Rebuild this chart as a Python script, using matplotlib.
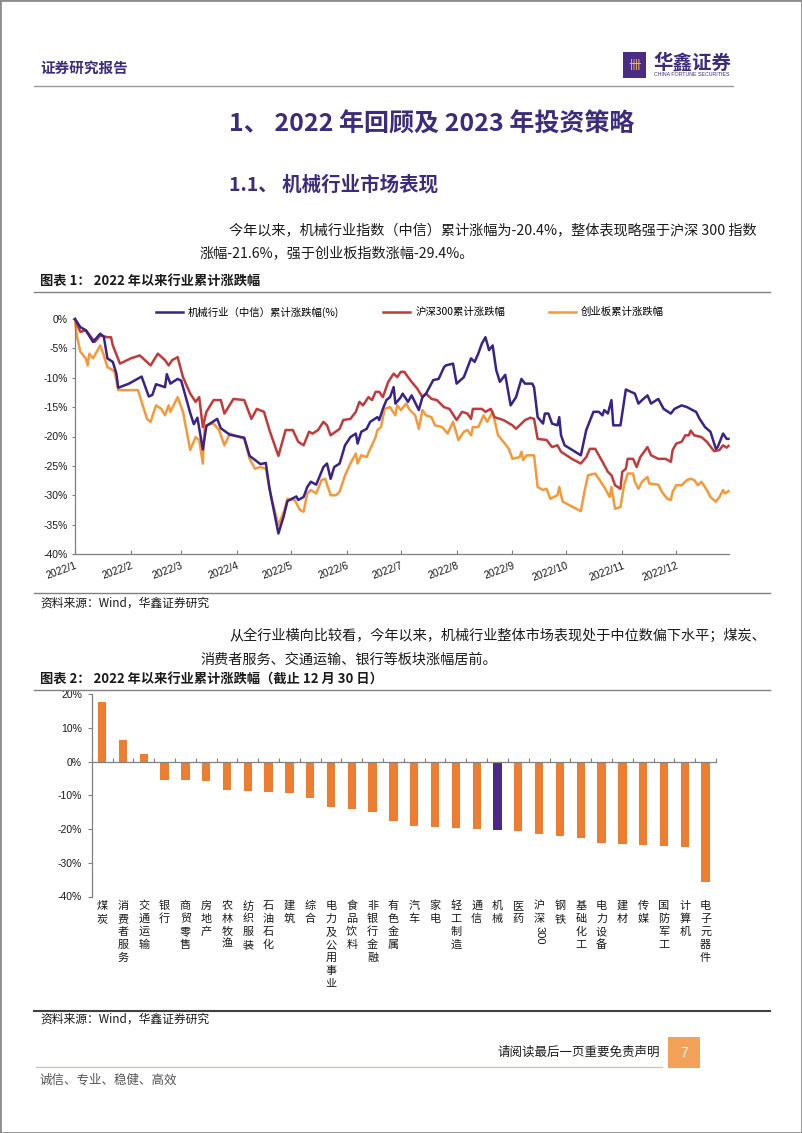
"""
Report page: 2022 cumulative returns, machinery sector vs indices and all industries.
Output: out.png
"""
import matplotlib
matplotlib.use("Agg")
import numpy as np
import pandas as pd
import matplotlib.pyplot as plt
import matplotlib.transforms as mtransforms
from matplotlib.lines import Line2D
from matplotlib.patches import Rectangle

plt.rcParams["font.family"] = ["Liberation Sans", "Noto Sans CJK SC"]
CJK = ["Noto Sans CJK SC", "DejaVu Sans"]

# ── Data: chart 1 (day offset from 2022-01-01, cumulative return %) ──────────
mach_day = [0, 3, 6, 10, 14, 16, 18, 21, 23, 24,
            30, 37, 41, 43, 45, 50, 51, 53, 57, 59,
            64, 66, 68, 71, 73, 79, 81, 86, 94, 97,
            103, 106, 108, 113, 116, 118, 123, 124, 127, 129,
            131, 134, 138, 140, 142, 144, 147, 150, 153, 156,
            157, 159, 162, 164, 168, 169, 171, 173, 175, 177,
            178, 181, 182, 185, 187, 191, 193, 195, 199, 202,
            205, 206, 210, 212, 216, 220, 222, 224, 226, 228,
            230, 232, 234, 236, 239, 242, 245, 248, 250, 254,
            255, 257, 260, 261, 263, 265, 268, 269, 270, 272,
            281, 284, 288, 291, 293, 294, 296, 298, 299, 303,
            306, 311, 313, 315, 318, 320, 324, 327, 331, 333,
            337, 340, 343, 345, 347, 350, 353, 356, 357, 360,
            362, 363]
mach_val = [0, -1.4, -1.9, -3.9, -2.5, -3.0, -6.7, -7.3, -9.3, -11.7,
            -11.0, -9.8, -13.2, -12.9, -11.1, -11.6, -9.4, -11.0, -10.2, -10.5,
            -16.0, -17.9, -16.8, -22.2, -18.2, -17.0, -18.6, -19.7, -20.2, -23.3,
            -24.7, -24.5, -28.8, -36.5, -33.5, -31.0, -30.2, -30.8, -30.3, -28.6,
            -27.7, -28.2, -25.2, -24.6, -27.2, -25.2, -24.6, -21.5, -20.1, -19.5,
            -21.2, -19.2, -18.7, -17.5, -16.7, -17.2, -15.3, -13.8, -13.3, -11.6,
            -14.4, -13.3, -12.7, -14.1, -13.0, -15.5, -13.3, -12.7, -10.4, -10.2,
            -8.2, -7.9, -7.6, -11.0, -9.9, -6.7, -7.3, -5.9, -4.2, -3.1,
            -5.3, -4.5, -8.7, -10.7, -9.5, -14.7, -13.3, -10.2, -11.0, -11.0,
            -11.6, -16.7, -17.8, -16.1, -16.1, -17.8, -18.1, -16.7, -19.8, -21.5,
            -23.2, -18.9, -15.8, -15.8, -16.4, -15.5, -16.1, -13.8, -18.1, -18.1,
            -12.0, -12.7, -14.4, -13.8, -13.0, -14.4, -13.6, -15.3, -16.1, -15.3,
            -14.7, -15.0, -15.5, -15.8, -17.0, -18.4, -19.2, -22.1, -21.8, -19.5,
            -20.4, -20.4]

hs300_day = [0, 3, 6, 11, 14, 18, 20, 21, 25, 31,
             36, 42, 46, 50, 52, 54, 57, 60, 64, 67,
             69, 71, 73, 77, 81, 83, 88, 94, 98, 101,
             105, 108, 113, 117, 121, 124, 127, 130, 132, 135,
             138, 140, 142, 147, 149, 153, 156, 158, 160, 163,
             165, 167, 169, 171, 174, 177, 179, 181, 183, 185,
             187, 190, 193, 195, 198, 201, 205, 208, 212, 215,
             218, 220, 221, 226, 228, 231, 233, 238, 243, 245,
             248, 250, 253, 255, 257, 262, 265, 268, 270, 276,
             281, 284, 286, 289, 293, 296, 298, 300, 303, 304,
             306, 307, 310, 312, 314, 318, 320, 324, 328, 331,
             332, 334, 337, 339, 341, 342, 344, 348, 351, 355,
             358, 360, 362, 363]
hs300_val = [0, -2.2, -1.9, -3.9, -2.8, -3.1, -3.1, -4.5, -7.6, -6.7,
             -6.2, -7.9, -5.9, -7.0, -7.9, -7.0, -6.5, -9.9, -12.7, -14.1,
             -13.3, -18.4, -15.8, -13.8, -13.8, -16.1, -13.6, -13.8, -17.0, -15.3,
             -15.8, -18.9, -23.3, -18.9, -18.9, -20.9, -21.5, -19.2, -19.5, -18.9,
             -17.5, -18.1, -19.8, -18.7, -17.2, -17.0, -15.8, -14.1, -14.7, -13.3,
             -13.8, -12.4, -12.4, -13.3, -10.7, -9.3, -9.9, -9.0, -9.0, -9.9,
             -10.7, -11.8, -13.3, -12.7, -13.6, -13.8, -15.0, -15.3, -17.2, -15.8,
             -16.1, -17.0, -15.3, -15.3, -15.8, -15.3, -16.7, -17.2, -18.1, -18.7,
             -17.8, -17.2, -16.8, -17.0, -20.4, -20.6, -21.8, -21.5, -22.6, -23.8,
             -24.6, -23.5, -22.1, -22.1, -24.3, -26.0, -26.6, -28.3, -28.9, -26.0,
             -25.5, -23.8, -23.8, -25.2, -23.5, -21.8, -23.2, -23.8, -23.8, -24.3,
             -22.3, -21.2, -20.9, -19.8, -19.8, -19.0, -19.8, -20.1, -20.9, -22.5,
             -22.3, -21.5, -21.9, -21.6]

cyb_day = [0, 1, 3, 6, 7, 8, 10, 14, 16, 18,
           20, 22, 24, 35, 37, 40, 42, 45, 48, 50,
           52, 53, 57, 60, 64, 67, 69, 71, 72, 77,
           80, 83, 86, 94, 97, 100, 103, 106, 109, 113,
           116, 118, 122, 125, 127, 129, 131, 134, 137, 139,
           142, 145, 147, 150, 153, 156, 157, 159, 162, 164,
           167, 168, 170, 172, 175, 178, 179, 181, 184, 186,
           189, 191, 193, 195, 198, 200, 204, 207, 210, 213,
           216, 218, 220, 221, 224, 227, 229, 232, 235, 238,
           241, 243, 247, 248, 249, 251, 255, 257, 260, 262,
           264, 268, 269, 270, 271, 281, 283, 285, 289, 292,
           294, 297, 298, 300, 303, 305, 307, 310, 311, 313,
           315, 318, 319, 324, 326, 329, 331, 332, 334, 337,
           340, 342, 344, 346, 348, 351, 353, 356, 358, 360,
           361, 363]
cyb_val = [0, -2.8, -5.6, -6.7, -7.9, -5.9, -6.7, -4.5, -6.2, -8.2,
           -8.5, -9.0, -12.1, -12.1, -14.1, -17.0, -17.5, -14.7, -15.3, -16.4,
           -14.7, -15.8, -13.3, -15.8, -22.3, -20.1, -20.6, -24.6, -18.1, -17.8,
           -18.9, -21.5, -19.5, -20.4, -23.8, -25.5, -25.2, -25.5, -30.3, -35.1,
           -32.8, -30.6, -30.8, -32.5, -32.8, -29.7, -29.1, -29.7, -27.4, -27.2,
           -30.0, -30.0, -29.4, -26.6, -24.6, -22.9, -24.6, -23.2, -23.5, -22.1,
           -20.1, -18.9, -18.4, -15.3, -15.0, -16.4, -14.7, -15.5, -14.4, -15.5,
           -16.4, -18.7, -15.5, -16.4, -16.7, -18.1, -18.4, -19.5, -17.5, -20.6,
           -19.2, -18.9, -19.8, -18.4, -18.4, -16.4, -17.5, -15.8, -19.8, -20.9,
           -22.1, -23.8, -23.5, -22.6, -24.0, -23.2, -23.2, -28.6, -29.1, -28.9,
           -30.6, -30.0, -28.6, -30.0, -31.1, -32.7, -29.4, -26.6, -26.3, -27.7,
           -28.6, -30.3, -28.6, -32.3, -32.0, -28.3, -26.3, -26.3, -27.7, -28.9,
           -27.7, -26.9, -28.0, -28.2, -29.4, -30.6, -30.8, -29.4, -28.3, -28.3,
           -27.4, -27.2, -27.4, -28.3, -27.7, -29.1, -30.3, -31.1, -30.3, -29.1,
           -29.7, -29.3]

series_labels = ["机械行业（中信）累计涨跌幅(%)", "沪深300累计涨跌幅", "创业板累计涨跌幅"]
month_labels = [f"2022/{m}" for m in range(1, 13)]

# ── Data: chart 2 (industry cumulative return %, to 2022-12-30) ───────────────
industries = ["煤炭", "消费者服务", "交通运输", "银行", "商贸零售", "房地产",
              "农林牧渔", "纺织服装", "石油石化", "建筑", "综合", "电力及公用事业",
              "食品饮料", "非银行金融", "有色金属", "汽车", "家电", "轻工制造",
              "通信", "机械", "医药", "沪深300", "钢铁", "基础化工", "电力设备",
              "建材", "传媒", "国防军工", "计算机", "电子元器件"]
returns = [17.6, 6.4, 2.3, -5.4, -5.5, -5.6, -8.4, -8.6, -8.9, -9.3,
           -10.9, -13.5, -13.9, -14.8, -17.5, -19.2, -19.4, -19.8, -19.9, -20.4,
           -20.6, -21.6, -22.1, -22.5, -24.1, -24.4, -24.6, -24.9, -25.2, -35.8]
highlight = "机械"

# ── Colours ───────────────────────────────────────────────────────────────────
C_HEAD   = "#3D2C7D"
C_MACH   = "#3A2388"
C_HS300  = "#C23B3B"
C_CYB    = "#F5993A"
C_BAR    = "#ED7D31"
C_BAR_HI = "#4B2A86"
C_RULE   = "#808080"
C_TEXT   = "#1A1A1A"

W, H = 802, 1133
fig = plt.figure(figsize=(W / 100, H / 100), dpi=100)
fig.patch.set_facecolor("white")


def fx(x):
    return x / W


def fy(y):
    return 1 - y / H


def ftext(x, y, s, **kw):
    kw.setdefault("va", "center")
    kw.setdefault("family", CJK)
    return fig.text(fx(x), fy(y), s, **kw)


def rule(x0, x1, y, color=C_RULE, lw=1.0):
    fig.add_artist(Line2D([fx(x0), fx(x1)], [fy(y), fy(y)],
                          transform=fig.transFigure, color=color, lw=lw))


# ── Page frame & header ───────────────────────────────────────────────────────
fig.add_artist(Rectangle((0, 0), 1, 1, transform=fig.transFigure, fill=False,
                         edgecolor="#8C8C8C", lw=2))
ftext(40, 68, "证券研究报告", fontsize=10.5, fontweight="bold", color=C_HEAD)
fig.add_artist(Rectangle((fx(623), fy(78)), 23 / W, 26 / H,
                         transform=fig.transFigure, facecolor="#4A2C85",
                         edgecolor="none"))
ftext(634.5, 66, "卌", fontsize=9, color="#F2C14E", ha="center")
ftext(653, 63, "华鑫证券", fontsize=14, fontweight="bold", color=C_HEAD)
ftext(654, 75, "CHINA FORTUNE SECURITIES", fontsize=3.8, color=C_HEAD,
      family=["Liberation Sans"])
rule(34, 733, 86, color="#9A9A9A", lw=1.0)

ftext(229, 124, "1、 2022 年回顾及 2023 年投资策略", fontsize=18,
      fontweight="bold", color=C_HEAD)
ftext(229, 185, "1.1、 机械行业市场表现", fontsize=14, fontweight="bold",
      color=C_HEAD)
ftext(229, 231, "今年以来，机械行业指数（中信）累计涨幅为-20.4%，整体表现略强于沪深 300 指数",
      fontsize=10.2, color=C_TEXT)
ftext(200, 254, "涨幅-21.6%，强于创业板指数涨幅-29.4%。", fontsize=10.2, color=C_TEXT)

ftext(40, 281, "图表 1： 2022 年以来行业累计涨跌幅", fontsize=9.5,
      fontweight="bold", color=C_TEXT)
rule(34, 770, 292)

# ── Chart 1: cumulative return lines ─────────────────────────────────────────
ax1 = fig.add_axes([fx(75), fy(554), (729 - 75) / W, (554 - 319) / H])
start = pd.Timestamp("2022-01-01")


def to_dates(days):
    return start + pd.to_timedelta(days, unit="D")


ax1.plot(to_dates(mach_day), mach_val, color=C_MACH, lw=1.8,
         label=series_labels[0], zorder=4, clip_on=False)
ax1.plot(to_dates(hs300_day), hs300_val, color=C_HS300, lw=1.8,
         label=series_labels[1], zorder=3, clip_on=False)
ax1.plot(to_dates(cyb_day), cyb_val, color=C_CYB, lw=1.8,
         label=series_labels[2], zorder=2, clip_on=False)

ax1.set_xlim(start, start + pd.Timedelta(days=363.3))
ax1.set_ylim(-40, 0)
ax1.set_yticks(np.arange(-40, 1, 5))
ax1.set_yticklabels([f"{v}%" for v in range(-40, 1, 5)])
ax1.set_xticks(pd.date_range("2022-01-01", periods=12, freq="MS"))
ax1.set_xticklabels(month_labels, rotation=20, ha="right",
                    rotation_mode="anchor")
for side in ("top", "right"):
    ax1.spines[side].set_visible(False)
for side in ("left", "bottom"):
    ax1.spines[side].set_color(C_RULE)
    ax1.spines[side].set_linewidth(0.9)
ax1.tick_params(axis="x", direction="in", length=3, pad=5, labelsize=7.5,
                color=C_RULE, labelcolor=C_TEXT)
ax1.tick_params(axis="y", direction="out", length=2, pad=3, labelsize=7.5,
                color=C_RULE, labelcolor=C_TEXT)
ax1.legend(ncol=3, loc="center", bbox_to_anchor=(0.512, 1.03), frameon=False,
           handlelength=2.6, handletextpad=0.5, columnspacing=4.2,
           prop=dict(family=CJK, size=7.5))

rule(34, 770, 593)
ftext(40, 603, "资料来源：Wind，华鑫证券研究", fontsize=8.5, color=C_TEXT)

ftext(229, 636, "从全行业横向比较看，今年以来，机械行业整体市场表现处于中位数偏下水平；煤炭、",
      fontsize=10.2, color=C_TEXT)
ftext(200, 659, "消费者服务、交通运输、银行等板块涨幅居前。", fontsize=10.2,
      color=C_TEXT)

ftext(40, 680, "图表 2： 2022 年以来行业累计涨跌幅（截止 12 月 30 日）",
      fontsize=9.5, fontweight="bold", color=C_TEXT)
rule(34, 770, 690)

# ── Chart 2: industry bars ────────────────────────────────────────────────────
ax2 = fig.add_axes([fx(91.7), fy(896.5), (716 - 91.7) / W, (896.5 - 694.3) / H])
pos = np.arange(len(industries))
bar_colors = [C_BAR_HI if name == highlight else C_BAR for name in industries]
ax2.bar(pos, returns, width=0.4, color=bar_colors, zorder=2)
ax2.set_xlim(-0.5, len(industries) - 0.5)
ax2.set_ylim(-40, 20)
ax2.set_yticks(np.arange(-40, 21, 10))
ax2.set_yticklabels([f"{v}%" for v in range(-40, 21, 10)])
ax2.set_xticks(np.arange(len(industries) + 1) - 0.5)
ax2.set_xticklabels([])
for side in ("top", "right"):
    ax2.spines[side].set_visible(False)
ax2.spines["bottom"].set_position(("data", 0))
for side in ("left", "bottom"):
    ax2.spines[side].set_color(C_RULE)
    ax2.spines[side].set_linewidth(0.9)
ax2.tick_params(axis="x", direction="in", length=3, color=C_RULE)
ax2.tick_params(axis="y", direction="out", length=3, pad=4, labelsize=7.5,
                color=C_RULE, labelcolor=C_TEXT)

# vertical category labels, one character per row, latin runs rotated
lab_tf = mtransforms.blended_transform_factory(ax2.transData, fig.transFigure)
for i, name in enumerate(industries):
    y = 906
    j = 0
    while j < len(name):
        if name[j].isascii():
            k = j
            while k < len(name) and name[k].isascii():
                k += 1
            run = name[j:k]
            fig.text(i, fy(y - 6), run, transform=lab_tf, rotation=-90,
                     ha="center", va="top", fontsize=8, color=C_TEXT,
                     family=["Liberation Sans"])
            y += 6.2 * len(run) + 8
            j = k
        else:
            fig.text(i, fy(y), name[j], transform=lab_tf, ha="center",
                     va="center", fontsize=8, color=C_TEXT, family=CJK)
            y += 13
            j += 1

rule(34, 770, 1011, color="#404040", lw=1.5)
ftext(40, 1019, "资料来源：Wind，华鑫证券研究", fontsize=8.5, color=C_TEXT)

# ── Footer ────────────────────────────────────────────────────────────────────
ftext(660, 1052, "请阅读最后一页重要免责声明", fontsize=9, color=C_TEXT, ha="right")
rule(36, 662, 1067, color="#C8C8B4", lw=1.0)
fig.add_artist(Rectangle((fx(668), fy(1068)), 32 / W, 31 / H,
                         transform=fig.transFigure, facecolor="#F4A25A",
                         edgecolor="none"))
ftext(684, 1053, "7", fontsize=10, color="white", ha="center",
      family=["Liberation Sans"])
ftext(40, 1080, "诚信、专业、稳健、高效", fontsize=9, color="#555555")

fig.savefig("out.png", dpi=100, facecolor=fig.get_facecolor())
plt.close(fig)
